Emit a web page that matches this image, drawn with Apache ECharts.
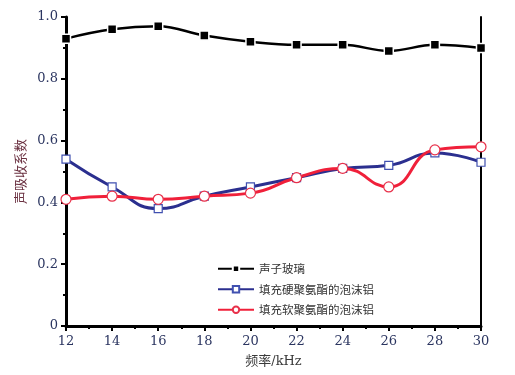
<!DOCTYPE html>
<html>
<head>
<meta charset="utf-8">
<script src="https://cdn.jsdelivr.net/npm/echarts@6/dist/echarts.min.js"></script>
<style>
  html, body { margin: 0; padding: 0; background: #fff; }
  #chart { width: 515px; height: 375px; }
</style>
</head>
<body>
<div id="chart"></div>
<script>
// 频率 (kHz)
const freqs = [12, 14, 16, 18, 20, 22, 24, 26, 28, 30];
// 声吸收系数
const glass = [0.93, 0.96, 0.97, 0.94, 0.92, 0.91, 0.91, 0.89, 0.91, 0.90];
const hardPU = [0.54, 0.45, 0.38, 0.42, 0.45, 0.48, 0.51, 0.52, 0.56, 0.53];
const softPU = [0.41, 0.42, 0.41, 0.42, 0.43, 0.48, 0.51, 0.45, 0.57, 0.58];
const seriesNames = ["声子玻璃", "填充硬聚氨酯的泡沫铝", "填充软聚氨酯的泡沫铝"];

const labelColor = "#2b3560";
const serif = "'DejaVu Serif', 'Noto Sans CJK SC', serif";

const toPairs = arr => arr.map((v, i) => [freqs[i], v]);

const myChart = echarts.init(document.getElementById("chart"));

const option = {
  animation: false,
  backgroundColor: "#fff",
  grid: { left: 66, right: 34, top: 17, bottom: 49 },
  legend: {
    orient: "vertical",
    left: 212,
    top: 258,
    itemWidth: 36,
    itemHeight: 8,
    itemGap: 9,
    data: seriesNames,
    textStyle: { fontFamily: "'Noto Sans CJK SC'", fontSize: 11.5, color: "#333" }
  },
  xAxis: [
    {
      type: "value",
      min: 12,
      max: 30,
      interval: 2,
      name: "频率/kHz",
      nameLocation: "middle",
      nameGap: 29,
      nameTextStyle: { fontFamily: serif, fontSize: 13, color: "#3a3a3a" },
      axisLine: { lineStyle: { color: "#000", width: 3 } },
      axisTick: { inside: false, length: 5, lineStyle: { color: "#000", width: 2 } },
      minorTick: { show: true, splitNumber: 2, length: 3, lineStyle: { color: "#000", width: 2 } },
      axisLabel: { fontFamily: serif, fontSize: 13, color: labelColor, margin: 9 },
      splitLine: { show: false }
    },
    {
      type: "value",
      position: "top",
      min: 12,
      max: 30,
      axisLine: { show: true, lineStyle: { color: "#000", width: 2 } },
      axisTick: { show: false },
      axisLabel: { show: false },
      splitLine: { show: false }
    }
  ],
  yAxis: [
    {
      type: "value",
      min: 0,
      max: 1,
      interval: 0.2,
      name: "声吸收系数",
      nameLocation: "middle",
      nameGap: 31,
      nameRotate: 90,
      nameTextStyle: { fontFamily: "'Noto Sans CJK SC'", fontSize: 13, color: "#6a3040" },
      axisLine: { show: true, lineStyle: { color: "#000", width: 3 } },
      axisTick: { inside: false, length: 5, lineStyle: { color: "#000", width: 2 } },
      minorTick: { show: true, splitNumber: 2, length: 3, lineStyle: { color: "#000", width: 2 } },
      axisLabel: {
        fontFamily: serif,
        fontSize: 13,
        color: labelColor,
        margin: 8,
        formatter: v => (v === 0 ? "0" : v.toFixed(1))
      },
      splitLine: { show: false }
    },
    {
      type: "value",
      position: "right",
      min: 0,
      max: 1,
      axisLine: { show: true, lineStyle: { color: "#000", width: 2 } },
      axisTick: { show: false },
      axisLabel: { show: false },
      splitLine: { show: false }
    }
  ],
  series: [
    {
      name: seriesNames[0],
      type: "line",
      smooth: 0.4,
      data: toPairs(glass),
      symbol: "rect",
      symbolSize: 9,
      lineStyle: { color: "#000", width: 2.5 },
      itemStyle: { color: "#000", borderColor: "#fff", borderWidth: 1.5 }
    },
    {
      name: seriesNames[1],
      type: "line",
      smooth: 0.5,
      data: toPairs(hardPU),
      symbol: "rect",
      symbolSize: 8,
      lineStyle: { color: "#2b2f8f", width: 3 },
      itemStyle: { color: "#fff", borderColor: "#4050b0", borderWidth: 1.2 }
    },
    {
      name: seriesNames[2],
      type: "line",
      smooth: 0.5,
      data: toPairs(softPU),
      symbol: "circle",
      symbolSize: 10,
      lineStyle: { color: "#f0203a", width: 3 },
      itemStyle: { color: "#fff", borderColor: "#e8304a", borderWidth: 1.2 }
    }
  ]
};
myChart.setOption(option);
</script>
</body>
</html>
